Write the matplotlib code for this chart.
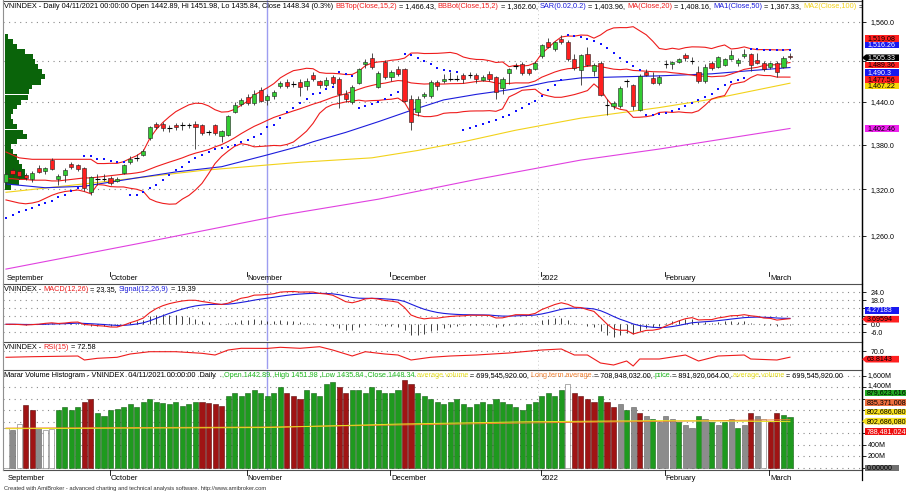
import numpy as np
import pandas as pd
import matplotlib
matplotlib.use("Agg")
import matplotlib.pyplot as plt
from matplotlib.patches import Polygon

plt.rcParams['font.family'] = ['Liberation Sans', 'DejaVu Sans']

# ---------------- data ----------------
month_names = ["September", "October", "November", "December", "2022", "February", "March"]
month_idx = [0, 16, 37, 59, 82, 101, 117]
sel_bar = 40  # 04/11/2021

opens = [1330, 1345, 1344, 1339, 1333, 1348, 1344, 1359, 1333, 1339, 1354, 1352, 1348, 1317, 1333, 1334,
         1335, 1331, 1342, 1356, 1362, 1366, 1389, 1409, 1409, 1403, 1407, 1407, 1407, 1409, 1407, 1398,
         1407, 1392, 1394, 1426, 1437, 1447, 1438, 1457, 1442.89, 1449, 1463, 1469, 1466, 1469, 1463, 1479,
         1470, 1464, 1477, 1473, 1451, 1440, 1468, 1495, 1505, 1462, 1499, 1477, 1488, 1488, 1445, 1425,
         1449, 1448, 1469, 1471, 1474, 1474, 1479, 1480, 1480, 1472, 1481, 1476, 1460, 1482, 1493, 1495,
         1488, 1488, 1507, 1528, 1518, 1534, 1528, 1503, 1487, 1510, 1485, 1497, 1436, 1434, 1434, 1470,
         1464, 1429, 1483, 1475, 1467, 1497, 1495, 1499, 1509, 1501, 1484, 1470, 1497, 1491, 1494, 1503,
         1497, 1507, 1510, 1502, 1497, 1491, 1497, 1491, 1507]
highs = [1343, 1348, 1347, 1342, 1344, 1352, 1350, 1362, 1340, 1348, 1357, 1354, 1350, 1337, 1340, 1340,
         1337, 1336, 1354, 1364, 1367, 1374, 1406, 1412, 1411, 1408, 1410, 1412, 1410, 1413, 1409, 1401,
         1409, 1401, 1421, 1440, 1446, 1451, 1458, 1461, 1451.98, 1458, 1470, 1474, 1470, 1474, 1475, 1483,
         1472, 1477, 1480, 1476, 1458, 1464, 1490, 1503, 1512, 1485, 1502, 1487, 1492, 1490, 1450, 1448,
         1454, 1472, 1472, 1481, 1484, 1480, 1482, 1484, 1482, 1480, 1485, 1478, 1477, 1490, 1497, 1498,
         1490, 1500, 1526, 1535, 1530, 1540, 1532, 1510, 1511, 1521, 1497, 1500, 1444, 1441, 1463, 1474,
         1466, 1481, 1488, 1483, 1480, 1502, 1500, 1505, 1512, 1506, 1492, 1495, 1500, 1508, 1505, 1517,
         1504, 1518, 1512, 1512, 1500, 1499, 1500, 1507, 1512]
lows = [1326, 1336, 1333, 1332, 1329, 1341, 1340, 1345, 1325, 1330, 1347, 1344, 1318, 1313, 1326, 1331,
        1325, 1329, 1340, 1354, 1358, 1364, 1387, 1402, 1399, 1398, 1400, 1401, 1403, 1374, 1394, 1394,
        1394, 1383, 1392, 1424, 1434, 1436, 1436, 1440, 1435.84, 1444, 1460, 1460, 1462, 1448, 1458, 1470,
        1460, 1462, 1465, 1432, 1440, 1437, 1466, 1490, 1488, 1460, 1473, 1470, 1478, 1440, 1400, 1420,
        1446, 1446, 1458, 1468, 1470, 1470, 1468, 1475, 1468, 1470, 1470, 1445, 1452, 1466, 1488, 1480,
        1480, 1486, 1505, 1519, 1515, 1526, 1500, 1486, 1465, 1492, 1478, 1448, 1421, 1430, 1432, 1462,
        1429, 1427, 1478, 1466, 1465, 1490, 1488, 1497, 1500, 1496, 1468, 1468, 1487, 1489, 1492, 1501,
        1492, 1505, 1485, 1495, 1485, 1488, 1477, 1489, 1503]
closes = [1340, 1340, 1338, 1335, 1342, 1343, 1348, 1347, 1337, 1346, 1350, 1347, 1322, 1336, 1333, 1334,
          1328, 1334, 1352, 1361, 1362, 1372, 1405, 1404, 1403, 1403, 1404, 1407, 1407, 1404, 1396, 1398,
          1396, 1399, 1420, 1436, 1443, 1438, 1452, 1442, 1448.34, 1455, 1468, 1463, 1466, 1462, 1471, 1473,
          1464, 1472, 1468, 1451, 1445, 1462, 1488, 1499, 1491, 1482, 1477, 1484, 1481, 1442, 1412, 1445,
          1451, 1469, 1463, 1474, 1474, 1474, 1473, 1479, 1474, 1476, 1474, 1454, 1474, 1488, 1493, 1482,
          1482, 1497, 1524, 1521, 1528, 1528, 1503, 1489, 1509, 1494, 1494, 1450, 1436, 1438, 1460, 1470,
          1434, 1478, 1480, 1468, 1477, 1496, 1499, 1503, 1505, 1500, 1471, 1491, 1490, 1506, 1503, 1509,
          1502, 1510, 1494, 1497, 1488, 1497, 1484, 1504, 1505.33]

sar = [1283, 1287, 1290, 1293, 1296, 1299, 1302, 1305, 1310, 1313, 1318, 1321,
       1364, 1364, 1361, 1360, 1358, 1357, 1356,
       1313, 1313, 1316, 1321, 1325, 1332, 1339, 1345, 1350, 1356, 1362, 1366, 1370, 1374, 1375, 1377,
       1380, 1383, 1386, 1390, 1395, 1404,
       1408, 1417, 1425, 1431, 1438, 1444, 1451, 1453, 1459, 1462,
       1483, 1481, 1478,
       1432, 1434, 1437, 1440, 1445, 1450, 1455,
       1511, 1509, 1505, 1500, 1495, 1490, 1487, 1485, 1483,
       1400, 1403, 1406, 1409, 1412, 1415, 1418, 1422, 1427, 1432, 1437, 1442, 1449, 1457, 1465, 1472,
       1540, 1538, 1536, 1533, 1530, 1526, 1519, 1512, 1505, 1498, 1492, 1486,
       1421, 1421, 1423, 1424, 1427, 1430, 1434, 1438, 1443, 1447, 1452, 1459, 1464, 1469, 1472, 1475,
       1518, 1518, 1517, 1517, 1516.7, 1516.5, 1516.26]

# first bars of the bands, before the 15/20 bar windows fill
bb_top_lead = [1370, 1366, 1362, 1361, 1360, 1360, 1360, 1360, 1360, 1360, 1360, 1360, 1360, 1360]
bb_bot_lead = [1306, 1304, 1302, 1301, 1302, 1304, 1308, 1312, 1315, 1317, 1318, 1319, 1317, 1314]
ma20_lead = [1334, 1334, 1333, 1333, 1332, 1332, 1332, 1331, 1331, 1332, 1333, 1334, 1335, 1335, 1336,
             1337, 1338, 1339, 1340]

ma50_i = [0, 6, 12, 20, 26, 33, 40, 45, 47, 52, 57, 62, 67, 72, 78, 83, 88, 92, 100, 108, 113, 120]
ma50_v = [1327, 1322, 1324, 1335, 1343, 1350, 1366, 1378, 1384, 1397, 1412, 1428, 1443, 1451, 1459,
          1469, 1475, 1476, 1478, 1481, 1485, 1490.3]
ma100_i = [0, 14, 30, 45, 56, 63, 70, 78, 88, 100, 108, 120]
ma100_v = [1316, 1329, 1345, 1356, 1362, 1372, 1384, 1400, 1417, 1432, 1444, 1467.22]
ma200_i = [0, 20, 42, 57, 72, 88, 100, 120]
ma200_v = [1219, 1250, 1286, 1307, 1333, 1359, 1374, 1402.46]

rsi_i = [0, 4, 11, 12, 14, 17, 19, 22, 26, 30, 32, 34, 36, 40, 42, 45, 48, 50, 53, 55, 58, 60, 62, 65,
         68, 72, 77, 82, 85, 87, 89, 91, 93, 95, 96, 97, 100, 104, 106, 109, 113, 114, 118, 120]
rsi_v = [63.7, 64.3, 65, 61, 62.7, 63.7, 67, 69.3, 69.3, 67.7, 66, 71, 72.7, 72.6, 73.7, 72.7, 74.3, 71,
         65, 69.3, 67, 66, 61, 63.7, 65, 66, 68, 71, 72, 66, 66, 58, 56, 60, 55, 62, 62, 66, 60, 65, 66,
         62, 61, 63.8]

# volume profile on the left of the price pane
profile_price = [1537, 1529, 1522, 1514, 1506, 1499, 1491, 1484, 1477, 1469, 1462, 1455, 1447, 1440,
                 1433, 1426, 1419, 1412, 1405, 1397, 1391, 1384, 1377, 1370, 1363, 1356, 1350, 1343,
                 1336, 1329, 1323]
profile_vol = [3, 8, 12, 20, 28, 30, 33, 37, 40, 36, 27, 24, 23, 16, 12, 8, 6, 8, 12, 18, 22, 12, 6, 8,
               12, 14, 17, 20, 22, 14, 6]

# volume in millions, and histogram colour code (g green, r red, w white, k grey)
volume = [700, 650, 760, 1090, 1000, 700, 650, 680, 1000, 1050, 1000, 1050, 1150, 1200, 950, 900,
          1000, 1020, 1050, 1100, 1050, 1150, 1200, 1150, 1120, 1100, 1150, 1080, 1100, 1150, 1150, 1120,
          1100, 1080, 1250, 1300, 1250,
          1300, 1350, 1300, 1250, 1300, 1400, 1300, 1250, 1200, 1350, 1300, 1250, 1450, 1480, 1400, 1300,
          1350, 1350, 1300, 1400, 1350, 1300,
          1300, 1350, 1520, 1450, 1300, 1250, 1200, 1150, 1100, 1150, 1200, 1100, 1050, 1100, 1150, 1100,
          1200, 1150, 1100, 1050, 1000, 1100, 1150,
          1250, 1300, 1250, 1350, 1450, 1300, 1250, 1200, 1150, 1250, 1150, 1050, 1100, 1000, 1050, 950,
          900, 850, 800,
          900, 850, 800, 750, 700, 900, 850, 800, 750, 800, 850, 700, 750, 950, 900, 850, 800, 950, 920,
          880]
vol_color = list("wkwrrkwwggggrrgg" + "ggggggggggggggrrrrggg" + "ggggggrrrgggggrrgggggg" +
                 "ggrrggggggggggggggggggg" + "ggggwrrrrgrrkgkrkgk" + "kkgkkgkgkgkgkrkwrrgg")
avg_vol_i = [0, 40, 60, 80, 100, 120]
avg_vol_v = [680, 700, 760, 800, 820, 802]
lt_avg_i = [0, 40, 80, 120]
lt_avg_v = [690, 709, 780, 835]

# ---------------- layout helpers ----------------
W, H = 906, 492
FS = 5.35
RED, BLUE, YEL, MAG = '#ee1c1c', '#1c1cdc', '#f2d21a', '#e040e0'
GREEN_C, RED_C = '#33cc33', '#ff1f1f'
VGREEN, VRED, VGREY = '#1e9a1e', '#a01414', '#8c8c8c'

n = len(closes)
idx = np.arange(n)
X0, X1 = 3, 862
SP, I0 = 6.533, 6.0
XL = ((X0 - I0) / SP, (X1 - I0) / SP)

fig = plt.figure(figsize=(W / 100, H / 100), dpi=100)
fig.patch.set_facecolor('white')


def fx(x):
    return x / W


def fy(y):
    return 1 - y / H


def add_pane(y0, y1):
    ax = fig.add_axes([fx(X0), fy(y1), (X1 - X0) / W, (y1 - y0) / H])
    ax.set_xlim(*XL)
    ax.set_xticks([])
    ax.yaxis.tick_right()
    ax.tick_params(axis='y', which='both', length=3, width=0.6, labelsize=FS - 0.2, pad=3)
    ax.minorticks_off()
    for s in ['top', 'left', 'bottom']:
        ax.spines[s].set_visible(False)
    ax.spines['right'].set_linewidth(0.9)
    ax.grid(axis='y', color='#8a8a8a', linestyle=(0, (1, 4)), linewidth=0.8)
    ax.axvline(sel_bar, color='#9d9df0', lw=1.0, zorder=1)
    ax.axvline(month_idx[4] - 0.5, color='#c8c8c8', lw=0.7, linestyle=(0, (1, 3)), zorder=0)
    return ax


renderer = fig.canvas.get_renderer()


def header(ax, y, parts, x=4):
    for part in parts:
        s, c = part[0], part[1]
        size = part[2] if len(part) > 2 else FS
        if len(part) > 3:
            x = part[3]
        t = fig.text(fx(x), fy(y), s, color=c, fontsize=size, ha='left', va='center')
        t.set_clip_box(ax.bbox)
        t.set_clip_on(True)
        x += t.get_window_extent(renderer).width


def value_label(y, s, fc, tc, arrow=False, w=34, h=6.6):
    x0 = 865
    if arrow:
        pts = [(862, y), (866, y - h / 2), (x0 + w, y - h / 2), (x0 + w, y + h / 2), (866, y + h / 2)]
    else:
        pts = [(x0, y - h / 2), (x0 + w, y - h / 2), (x0 + w, y + h / 2), (x0, y + h / 2)]
    fig.patches.append(Polygon([(fx(a), fy(b)) for a, b in pts], closed=True, transform=fig.transFigure,
                               facecolor=fc, edgecolor='none', zorder=5))
    fig.text(fx(x0 + 2), fy(y), s, color=tc, fontsize=FS - 0.2, ha='left', va='center', zorder=6)


# ---------------- price pane ----------------
def price_at(ypx):
    return 1560 * np.exp(-(ypx - 21.7) / 1003)


ax = add_pane(0, 283)
ax.set_yscale('log')
ax.set_ylim(price_at(283), price_at(0))
pticks = [1260, 1320, 1380, 1440, 1500, 1560]
ax.set_yticks(pticks)
ax.set_yticklabels([f"{v:,.1f}" if v != 1500 else "" for v in pticks])
ax.minorticks_off()

# volume profile
pp = np.array(profile_price, float)
ax.barh(pp, np.array(profile_vol) / SP, height=pp * 0.0052, left=(5 - I0) / SP, color='#0a640a', zorder=2)

cs = pd.Series(closes, dtype=float)
m15 = cs.rolling(15).mean()
s15 = cs.rolling(15).std(ddof=0)
bb_top = (m15 + 2 * s15).to_numpy()
bb_bot = (m15 - 2 * s15).to_numpy()
bb_top[:14] = bb_top_lead
bb_bot[:14] = bb_bot_lead
ma20 = cs.rolling(20).mean().to_numpy()
ma20[:19] = ma20_lead

ax.plot(ma200_i, ma200_v, color=MAG, lw=0.8, zorder=3)
ax.plot(ma100_i, ma100_v, color=YEL, lw=0.8, zorder=3)
ax.plot(ma50_i, ma50_v, color=BLUE, lw=0.8, zorder=3)
ax.plot(idx, bb_top, color=RED, lw=0.8, zorder=3)
ax.plot(idx, bb_bot, color=RED, lw=0.8, zorder=3)
ax.plot(idx, ma20, color=RED, lw=0.8, zorder=3)
ax.scatter(idx, sar, s=1.7, marker='s', color='#1010ff', linewidths=0, zorder=4)

o = np.array(opens, float)
c = np.array(closes, float)
ax.vlines(idx, lows, highs, color='#303030', lw=0.6, zorder=4)
up = c >= o
body = np.abs(c - o)
doji = body < 1.2
fill = np.where(up, GREEN_C, RED_C)
ax.bar(idx[~doji], body[~doji], bottom=np.minimum(o, c)[~doji], width=0.64, color=fill[~doji],
       edgecolor='#202020', linewidth=0.4, zorder=5)
ax.hlines(c[doji], idx[doji] - 0.35, idx[doji] + 0.35, color='black', lw=0.8, zorder=5)

header(ax, 6.5, [
    ("VNINDEX - Daily 04/11/2021 00:00:00 Open 1442.89, Hi 1451.98, Lo 1435.84, Close 1448.34 (0.3%) ", 'black'),
    ("BBTop(Close,15,2)", RED), (" = 1,466.43, ", 'black'),
    ("BBBot(Close,15,2)", RED), (" = 1,362.60, ", 'black'),
    ("SAR(0.02,0.2)", BLUE), (" = 1,403.96, ", 'black'),
    ("MA(Close,20)", RED), (" = 1,408.16, ", 'black'),
    ("MA1(Close,50)", BLUE), (" = 1,367.33, ", 'black'),
    ("MA2(Close,100)", YEL), (" = 1,467.22", 'black')])

for k, name in zip(month_idx, month_names):
    xp = I0 + k * SP - 1
    if k > 0:
        fig.lines.append(plt.Line2D([fx(xp), fx(xp)], [fy(272), fy(276)], color='black', lw=0.6,
                                    transform=fig.transFigure))
    fig.text(fx(max(xp + 1, 7)), fy(278), name, fontsize=5.5, ha='left', va='center')

value_label(38.3, "1,519.08", '#ff2020', 'black')
value_label(45.0, "1,516.26", '#1818f0', 'white')
value_label(57.7, "1,505.33", 'black', 'white', arrow=True)
value_label(65.0, "1,489.36", '#ff2020', 'black')
value_label(72.7, "1,490.3", '#1818f0', 'white')
value_label(79.3, "1,477.56", '#ff2020', 'black')
value_label(86.0, "1,467.22", '#f6d80a', 'black')
value_label(128.3, "1,402.46", '#ee22ee', 'black')

# ---------------- MACD pane ----------------
ema12 = cs.ewm(span=12, adjust=False).mean()
ema26 = cs.ewm(span=26, adjust=False).mean()
macd = ema12 - ema26
signal = macd.ewm(span=9, adjust=False).mean()
hist = macd - signal

ax2 = add_pane(284, 341)
ax2.set_ylim((324.3 - 341) / 1.333, (324.3 - 284) / 1.333)
mt = [-6, 0, 6, 12, 18, 24]
ax2.set_yticks(mt)
ax2.set_yticklabels(["-6.0", "0.0", "", "", "18.0", "24.0"])
ax2.vlines(idx, 0, hist, color='#202020', lw=0.6, zorder=2)
ax2.plot(idx, signal, color=BLUE, lw=0.8, zorder=3)
ax2.plot(idx, macd, color=RED, lw=0.8, zorder=3)
header(ax2, 289.5, [("VNINDEX - ", 'black'), ("MACD(12,26)", RED), (" = 23.35, ", 'black'),
                    ("Signal(12,26,9)", BLUE), (" = 19.39", 'black')])
value_label(310.7, "4.27183", '#1818f0', 'white')
value_label(319.2, "3.69594", '#ff2020', 'black', arrow=True)

# ---------------- RSI pane ----------------
ax3 = add_pane(342, 369)
ax3.set_ylim(70 - (369 - 351), 70 + (351 - 342))
ax3.set_yticks([70])
ax3.set_yticklabels(["70.0"])
ax3.plot(rsi_i, rsi_v, color=RED, lw=0.8, zorder=3)
header(ax3, 347.5, [("VNINDEX - ", 'black'), ("RSI(15)", RED), (" = 72.58", 'black')])
value_label(359.2, "63.8143", '#ff2020', 'black', arrow=True)

# ---------------- volume pane ----------------
ax4 = add_pane(370, 469.5)
VS = 17.3
ax4.set_ylim((468 - 469.5) * VS, (468 - 370) * VS)
vt = [0, 200, 400, 600, 800, 1000, 1200, 1400, 1600]
ax4.set_yticks(vt)
ax4.set_yticklabels([""] * len(vt))
for lab, yy in [("1,600M", 375.7), ("1,400M", 385.3), ("400M", 445.7), ("200M", 456.0)]:
    fig.text(fx(868), fy(yy), lab, fontsize=FS - 0.2, ha='left', va='center')
cmap = {'g': (VGREEN, '#156015'), 'r': (VRED, '#5a0a0a'), 'w': ('white', '#707070'), 'k': (VGREY, '#606060')}
vc = [cmap[k][0] for k in vol_color]
ve = [cmap[k][1] for k in vol_color]
ax4.bar(idx, volume, width=0.78, color=vc, edgecolor=ve, linewidth=0.4, zorder=2)
ax4.plot(lt_avg_i, lt_avg_v, color='#f08030', lw=0.7, zorder=3)
ax4.plot(avg_vol_i, avg_vol_v, color='#e8e020', lw=0.7, zorder=3)
FV = 5.25
header(ax4, 375.5, [
    ("Marar Volume Histogram - VNINDEX  04/11/2021 00:00:00  Daily", 'black', 5.3),
    (",Open 1442.89 ,High 1451.98 ,Low 1435.84 ,Close 1448.34", '#22bb22', FV, 222),
    (" average volume", '#e8e020', FV), (" = 699,545,920.00, ", 'black', FV),
    ("Long term average", '#f08030', FV), (" = 708,948,032.00, ", 'black', FV),
    ("price", '#22bb22', FV), (" = 891,920,064.00, ", 'black', FV),
    ("average volume", '#e8e020', FV), (" = 699,545,920.00", 'black', FV)])
value_label(393.0, "879,623,616", '#22aa22', 'black', w=41)
value_label(402.3, "835,371,008", '#f07040', 'black', w=41)
value_label(412.0, "802,686,080", '#f6e020', 'black', w=41)
value_label(421.2, "802,686,080", '#f6e020', 'black', arrow=True, w=41)
value_label(431.2, "788,481,024", '#ee1010', 'white', w=41)
value_label(468.0, "0.00000", '#707070', 'black', w=34)

# frame lines
for yy in [0.5, 283.5, 341.5, 369.5, 469.5]:
    fig.lines.append(plt.Line2D([fx(X0), fx(X1)], [fy(yy), fy(yy)], color='#505050', lw=0.8,
                                transform=fig.transFigure))
fig.lines.append(plt.Line2D([fx(X0), fx(X0)], [fy(0), fy(469.5)], color='#909090', lw=0.8,
                            transform=fig.transFigure))
fig.lines.append(plt.Line2D([fx(X1), fx(X1)], [fy(0), fy(480)], color='black', lw=0.9,
                            transform=fig.transFigure))

for k, name in zip(month_idx, month_names):
    xp = I0 + k * SP - 1
    if k > 0:
        fig.lines.append(plt.Line2D([fx(xp), fx(xp)], [fy(470), fy(475)], color='black', lw=0.6,
                                    transform=fig.transFigure))
    fig.text(fx(max(xp + 1, 8)), fy(478), name, fontsize=5.5, ha='left', va='center')

fig.text(fx(4), fy(488.5), "Created with AmiBroker - advanced charting and technical analysis software. "
         "http://www.amibroker.com", fontsize=4.15, ha='left', va='center', color='#303030')

fig.savefig("out.png", dpi=100, facecolor='white')
